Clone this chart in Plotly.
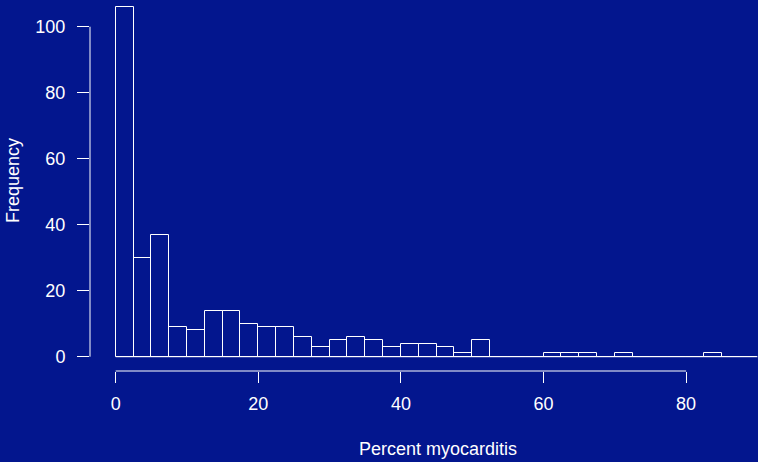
import numpy as np
import plotly.graph_objects as go

# Histogram of percent myocarditis: bin edges every 2.5 and count per bin
breaks = np.arange(0, 90.0 + 2.5, 2.5)
counts = [106, 30, 37, 9, 8, 14, 14, 10, 9, 9, 6, 3, 5, 6, 5, 3, 4, 4, 3, 1,
          5, 0, 0, 0, 1, 1, 1, 0, 1, 0, 0, 0, 0, 1, 0, 0]
x_ticks = [0, 20, 40, 60, 80]
y_ticks = [0, 20, 40, 60, 80, 100]

BG = "#03168e"
FG = "#ffffff"
FONT = "Liberation Sans, Arial, Helvetica, sans-serif"
FS = 18

mids = (breaks[:-1] + breaks[1:]) / 2
widths = np.diff(breaks)

fig = go.Figure()

# baseline under all bins (empty bins appear as a flat line)
fig.add_trace(go.Scatter(
    x=[breaks[0], breaks[-1]], y=[0, 0], mode="lines",
    line=dict(color=FG, width=1), hoverinfo="skip", showlegend=False,
))

fig.add_trace(go.Bar(
    x=mids, y=counts, width=widths,
    marker=dict(color="rgba(0,0,0,0)", line=dict(color=FG, width=1)),
    showlegend=False,
))

# axis lines spanning first to last tick, R style
fig.add_shape(type="line", xref="x", yref="paper",
              x0=x_ticks[0], x1=x_ticks[-1], y0=0, y1=0,
              line=dict(color=FG, width=1))
fig.add_shape(type="line", xref="paper", yref="y",
              x0=0, x1=0, y0=y_ticks[0], y1=y_ticks[-1],
              line=dict(color=FG, width=1))

W, H = 758, 462
ml, mr, mt, mb = 90, 0, 0, 91
plot_h = H - mt - mb
plot_w = W - ml - mr

fig.update_layout(
    width=W, height=H,
    margin=dict(l=ml, r=mr, t=mt, b=mb, pad=0),
    paper_bgcolor=BG, plot_bgcolor=BG,
    font=dict(family=FONT, size=FS, color=FG),
    bargap=0,
    xaxis=dict(
        range=[-3.6, 90.08], tickmode="array", tickvals=x_ticks,
        ticks="outside", ticklen=11, tickwidth=1, tickcolor=FG,
        showgrid=False, zeroline=False, showline=False,
        ticklabelstandoff=5,
    ),
    yaxis=dict(
        range=[-4.33, 108.09], tickmode="array", tickvals=y_ticks,
        ticks="outside", ticklen=12, tickwidth=1, tickcolor=FG,
        showgrid=False, zeroline=False, showline=False,
        ticklabelstandoff=8,
    ),
    annotations=[
        dict(text="Percent myocarditis", xref="paper", yref="paper",
             x=(437.5 - ml) / plot_w, y=(plot_h - 449 + mt) / plot_h,
             xanchor="center", yanchor="middle", showarrow=False,
             font=dict(size=FS, color=FG, family=FONT)),
        dict(text="Frequency", xref="paper", yref="paper",
             x=(13 - ml) / plot_w, y=(plot_h - 181 + mt) / plot_h,
             xanchor="center", yanchor="middle", textangle=-90,
             showarrow=False, font=dict(size=FS, color=FG, family=FONT)),
    ],
)

fig.write_html("out.html")
